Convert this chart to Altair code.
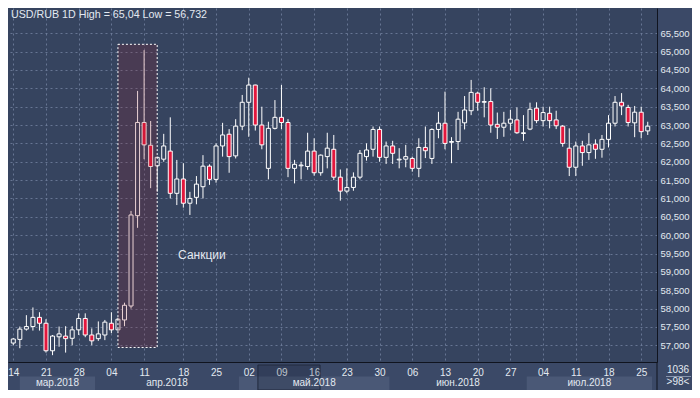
import altair as alt
import pandas as pd

# ---- candle data (trading-day index, OHLC) ----
opens = [57.06, 57.16, 57.44, 57.51, 57.76, 57.60, 56.85, 57.23, 57.25, 57.19,
         57.42, 57.73, 57.28, 57.18, 57.28, 57.60, 57.42, 57.69, 58.07, 60.53,
         63.07, 62.45, 61.89, 62.07, 62.29, 61.14, 61.53, 60.87, 61.03, 61.32,
         61.88, 61.52, 62.43, 62.75, 62.16, 62.97, 63.62, 64.09, 63.00, 61.82,
         62.91, 63.21, 63.07, 61.82, 61.89, 61.87, 62.29, 61.70, 62.14, 62.34,
         61.58, 61.20, 61.30, 61.58, 62.14, 62.34, 62.88, 62.12, 62.43, 62.05,
         62.07, 62.09, 61.82, 62.39, 62.09, 62.88, 63.05, 62.53, 62.55, 63.06,
         63.39, 63.87, 63.62, 63.64, 63.02, 62.94, 63.05, 63.14, 62.77, 62.89,
         63.46, 63.12, 63.32, 63.14, 62.97, 62.37, 61.85, 62.43, 62.25, 62.48,
         62.34, 62.61, 63.05, 63.62, 63.48, 63.06, 63.35, 62.84]
highs = [57.20, 57.51, 57.82, 58.03, 57.90, 57.71, 57.28, 57.51, 57.52, 57.52,
         57.87, 57.87, 57.46, 57.65, 57.69, 57.90, 57.75, 58.16, 60.66, 63.93,
         65.04, 63.11, 62.14, 62.76, 63.21, 62.05, 61.96, 61.18, 61.61, 62.18,
         61.93, 62.50, 63.06, 62.89, 63.16, 63.82, 64.29, 64.10, 63.50, 63.09,
         63.68, 64.09, 63.16, 62.05, 62.00, 62.79, 62.64, 62.20, 62.79, 62.73,
         61.79, 61.82, 61.71, 62.32, 62.50, 62.96, 62.96, 62.55, 62.57, 62.37,
         62.46, 62.14, 62.64, 62.96, 62.91, 63.36, 63.91, 62.67, 63.36, 63.79,
         64.23, 63.91, 64.03, 64.00, 63.34, 63.36, 63.41, 63.48, 63.27, 63.61,
         63.62, 63.50, 63.50, 63.39, 63.00, 62.91, 62.55, 62.57, 62.78, 62.61,
         62.73, 63.27, 63.79, 63.87, 63.55, 63.52, 63.50, 63.09]
lows = [57.00, 56.92, 57.40, 57.40, 57.40, 56.80, 56.73, 56.96, 56.80, 57.00,
        57.28, 57.22, 57.00, 57.12, 57.14, 57.33, 57.40, 57.52, 58.00, 60.20,
        62.07, 61.28, 61.18, 62.00, 61.00, 60.82, 60.75, 60.55, 60.84, 61.00,
        61.37, 61.43, 62.14, 61.70, 62.09, 62.86, 62.68, 62.85, 62.34, 61.52,
        62.88, 62.89, 61.58, 61.41, 61.52, 61.78, 61.62, 61.62, 61.82, 61.50,
        60.94, 61.14, 61.21, 61.52, 62.03, 62.14, 62.00, 61.94, 61.94, 61.82,
        61.85, 61.73, 61.58, 62.10, 61.94, 62.64, 62.34, 61.96, 62.32, 62.88,
        63.27, 63.39, 63.21, 62.79, 62.62, 62.68, 62.86, 62.76, 62.57, 62.86,
        63.05, 62.96, 62.91, 62.89, 62.41, 61.61, 61.61, 61.89, 62.05, 62.08,
        62.11, 62.39, 62.96, 63.27, 62.96, 62.67, 62.64, 62.73]
closes = [57.17, 57.44, 57.51, 57.76, 57.60, 56.85, 57.25, 57.31, 57.18, 57.42,
          57.73, 57.28, 57.12, 57.31, 57.63, 57.42, 57.71, 58.09, 60.55, 63.07,
          62.46, 61.87, 62.12, 62.43, 61.14, 61.53, 60.87, 61.00, 61.39, 61.88,
          61.52, 62.43, 62.73, 62.14, 62.97, 63.62, 64.09, 63.00, 62.46, 62.91,
          63.21, 63.07, 61.82, 61.93, 61.91, 62.29, 61.70, 62.18, 62.37, 61.58,
          61.20, 61.30, 61.58, 62.23, 62.32, 62.88, 62.12, 62.43, 62.23, 62.07,
          62.14, 61.82, 62.39, 62.30, 62.88, 63.05, 62.50, 62.55, 63.16, 63.41,
          63.89, 63.62, 63.64, 63.00, 62.94, 63.05, 63.16, 62.79, 62.79, 63.43,
          63.12, 63.34, 63.12, 62.98, 62.50, 61.85, 62.43, 62.25, 62.46, 62.34,
          62.61, 63.05, 63.62, 63.52, 63.07, 63.35, 62.82, 62.97]
day_index = list(range(len(opens)))

# ---- axis ticks / labels ----
tick_index = [0, 5, 10, 15, 20, 26, 31, 36, 41, 46, 51, 56, 61, 66, 71, 76, 81, 86, 91, 96]
tick_labels = ['14', '21', '28', '04', '11', '18', '25', '02', '09', '16',
               '23', '30', '06', '13', '20', '27', '04', '11', '18', '25']
price_ticks = [57.0, 57.5, 58.0, 58.5, 59.0, 59.5, 60.0, 60.5, 61.0, 61.5,
               62.0, 62.5, 63.0, 63.5, 64.0, 64.5, 65.0, 65.5]

month_names = ['мар.2018', 'апр.2018', 'май.2018', 'июн.2018', 'июл.2018']
month_start = [1.0, 12.5, 34.5, 57.5, 78.5]
month_end = [12.5, 34.5, 57.5, 78.5, 97.65]
month_shaded = [True, False, True, False, True]

scroll_start = [37.4]
scroll_end = [46.9]

box_x = [16.0]
box_x2 = [22.0]
box_low = [56.94]
box_high = [65.2]

note_text = ['Санкции']
note_x = [25.2]
note_y = [59.46]

title_text = 'USD/RUB 1D High = 65,04 Low = 56,732'
corner_top = '1036'
corner_bottom = '>98<'

# ---- styling ----
W, H = 649, 354
PLOT_BG = '#36445f'
PANEL_BG = '#3b4967'
BAND = '#4a5876'
TXT = '#e3e9f1'
GRID = '#7483a0'
RED = '#e3173d'
FONT = 'Liberation Sans'

df = pd.DataFrame({'i': day_index, 'open': opens, 'high': highs,
                   'low': lows, 'close': closes})
df['up'] = df['close'] >= df['open']

xs = alt.Scale(domain=[-0.045, 97.65], nice=False, zero=False)
ys = alt.Scale(domain=[56.544, 66.189], nice=False, zero=False)

label_expr = "[" + ",".join("'%s'" % t for t in tick_labels) + "][indexof([" + \
    ",".join(str(v) for v in tick_index) + "], datum.value)]"

x_axis = alt.Axis(values=tick_index, labelExpr=label_expr, grid=True, gridColor=GRID,
                  gridDash=[2, 3], gridOpacity=0.8, ticks=False, tickSize=0,
                  domainColor='#10141f', domainWidth=1, labelColor=TXT, labelFontSize=10,
                  labelFont=FONT, labelPadding=10, labelBaseline='middle',
                  labelFlush=False, labelOverlap=False, title=None, orient='bottom')
y_axis = alt.Axis(values=price_ticks, labelExpr="replace(format(datum.value,'.3f'),'.',',')",
                  grid=True, gridColor=GRID, gridDash=[2, 3], gridOpacity=0.8,
                  ticks=False, tickSize=0, domainColor='#10141f', domainWidth=1,
                  labelColor=TXT, labelFontSize=9.5, labelFont=FONT, labelPadding=3,
                  labelAlign='left', labelFlush=False, labelOverlap=False,
                  title=None, orient='right')


def X(field):
    return alt.X(field, type='quantitative', scale=xs, axis=x_axis)


def Y(field):
    return alt.Y(field, type='quantitative', scale=ys, axis=y_axis)


wicks = alt.Chart(df).mark_rule(color='white', strokeWidth=1).encode(
    x=X('i'), y=Y('low'), y2='high:Q')

bodies = alt.Chart(df).mark_bar(size=4, stroke='white', strokeWidth=1).encode(
    x=X('i'), y=Y('open'), y2='close:Q',
    fill=alt.condition('datum.up', alt.value(PLOT_BG), alt.value(RED)))

box_df = pd.DataFrame({'x': box_x, 'x2': box_x2, 'lo': box_low, 'hi': box_high})
box = alt.Chart(box_df).mark_rect(fill='#961821', fillOpacity=0.2, stroke='white',
                                  strokeDash=[2, 2], strokeWidth=1).encode(
    x=X('x'), x2='x2:Q', y=Y('lo'), y2='hi:Q')

note_df = pd.DataFrame({'t': note_text, 'x': note_x, 'y': note_y})
note = alt.Chart(note_df).mark_text(align='left', baseline='middle', fontSize=12,
                                    font=FONT, color=TXT).encode(
    x=X('x'), y=Y('y'), text='t:N')

title = alt.Chart(pd.DataFrame({'t': [title_text]})).mark_text(
    align='left', baseline='middle', fontSize=10.7, font=FONT, color=TXT).encode(
    x=alt.value(3), y=alt.value(6.5), text='t:N')

month_df = pd.DataFrame({'m': month_names, 's': month_start, 'e': month_end,
                         'shaded': month_shaded})
month_df['c'] = (month_df['s'] + month_df['e']) / 2
bands = alt.Chart(month_df[month_df['shaded']]).mark_rect(color=BAND).encode(
    x=X('s'), x2='e:Q', y=alt.value(368.5), y2=alt.value(382))
month_txt = alt.Chart(month_df).mark_text(baseline='middle', fontSize=10, font=FONT,
                                          color=TXT).encode(
    x=X('c'), y=alt.value(375), text='m:N')

scroll_df = pd.DataFrame({'s': scroll_start, 'e': scroll_end})
scroll = alt.Chart(scroll_df).mark_rect(fill='#0c1222', fillOpacity=0.18,
                                        stroke='#222a3e', strokeWidth=1).encode(
    x=X('s'), x2='e:Q', y=alt.value(357), y2=alt.value(382))

vline = alt.Chart(pd.DataFrame({'a': [0]})).mark_rule(color='#10141f', strokeWidth=1).encode(
    x=alt.value(649), y=alt.value(354), y2=alt.value(382))

corner = alt.Chart(pd.DataFrame({'t': [corner_top, corner_bottom], 'yy': [362, 374]})).mark_text(
    baseline='middle', fontSize=10, font=FONT, color=TXT).encode(
    x=alt.value(670), y=alt.Y('yy:Q', scale=None, axis=None), text='t:N')
corner_rule = alt.Chart(pd.DataFrame({'a': [0]})).mark_rule(color='#8794ad', strokeWidth=1).encode(
    x=alt.value(658), x2=alt.value(683), y=alt.value(368.5))

chart = alt.layer(bands, scroll, wicks, bodies, box, note, title, month_txt, vline,
                  corner, corner_rule).properties(
    width=W, height=H,
    autosize=alt.AutoSizeParams(type='none'),
    padding={'left': 0, 'top': 0, 'right': 35, 'bottom': 28},
    background=PANEL_BG,
).configure_view(fill=PLOT_BG, strokeWidth=0)

chart.save('out.html', embed_options={'renderer': 'svg', 'actions': False})
